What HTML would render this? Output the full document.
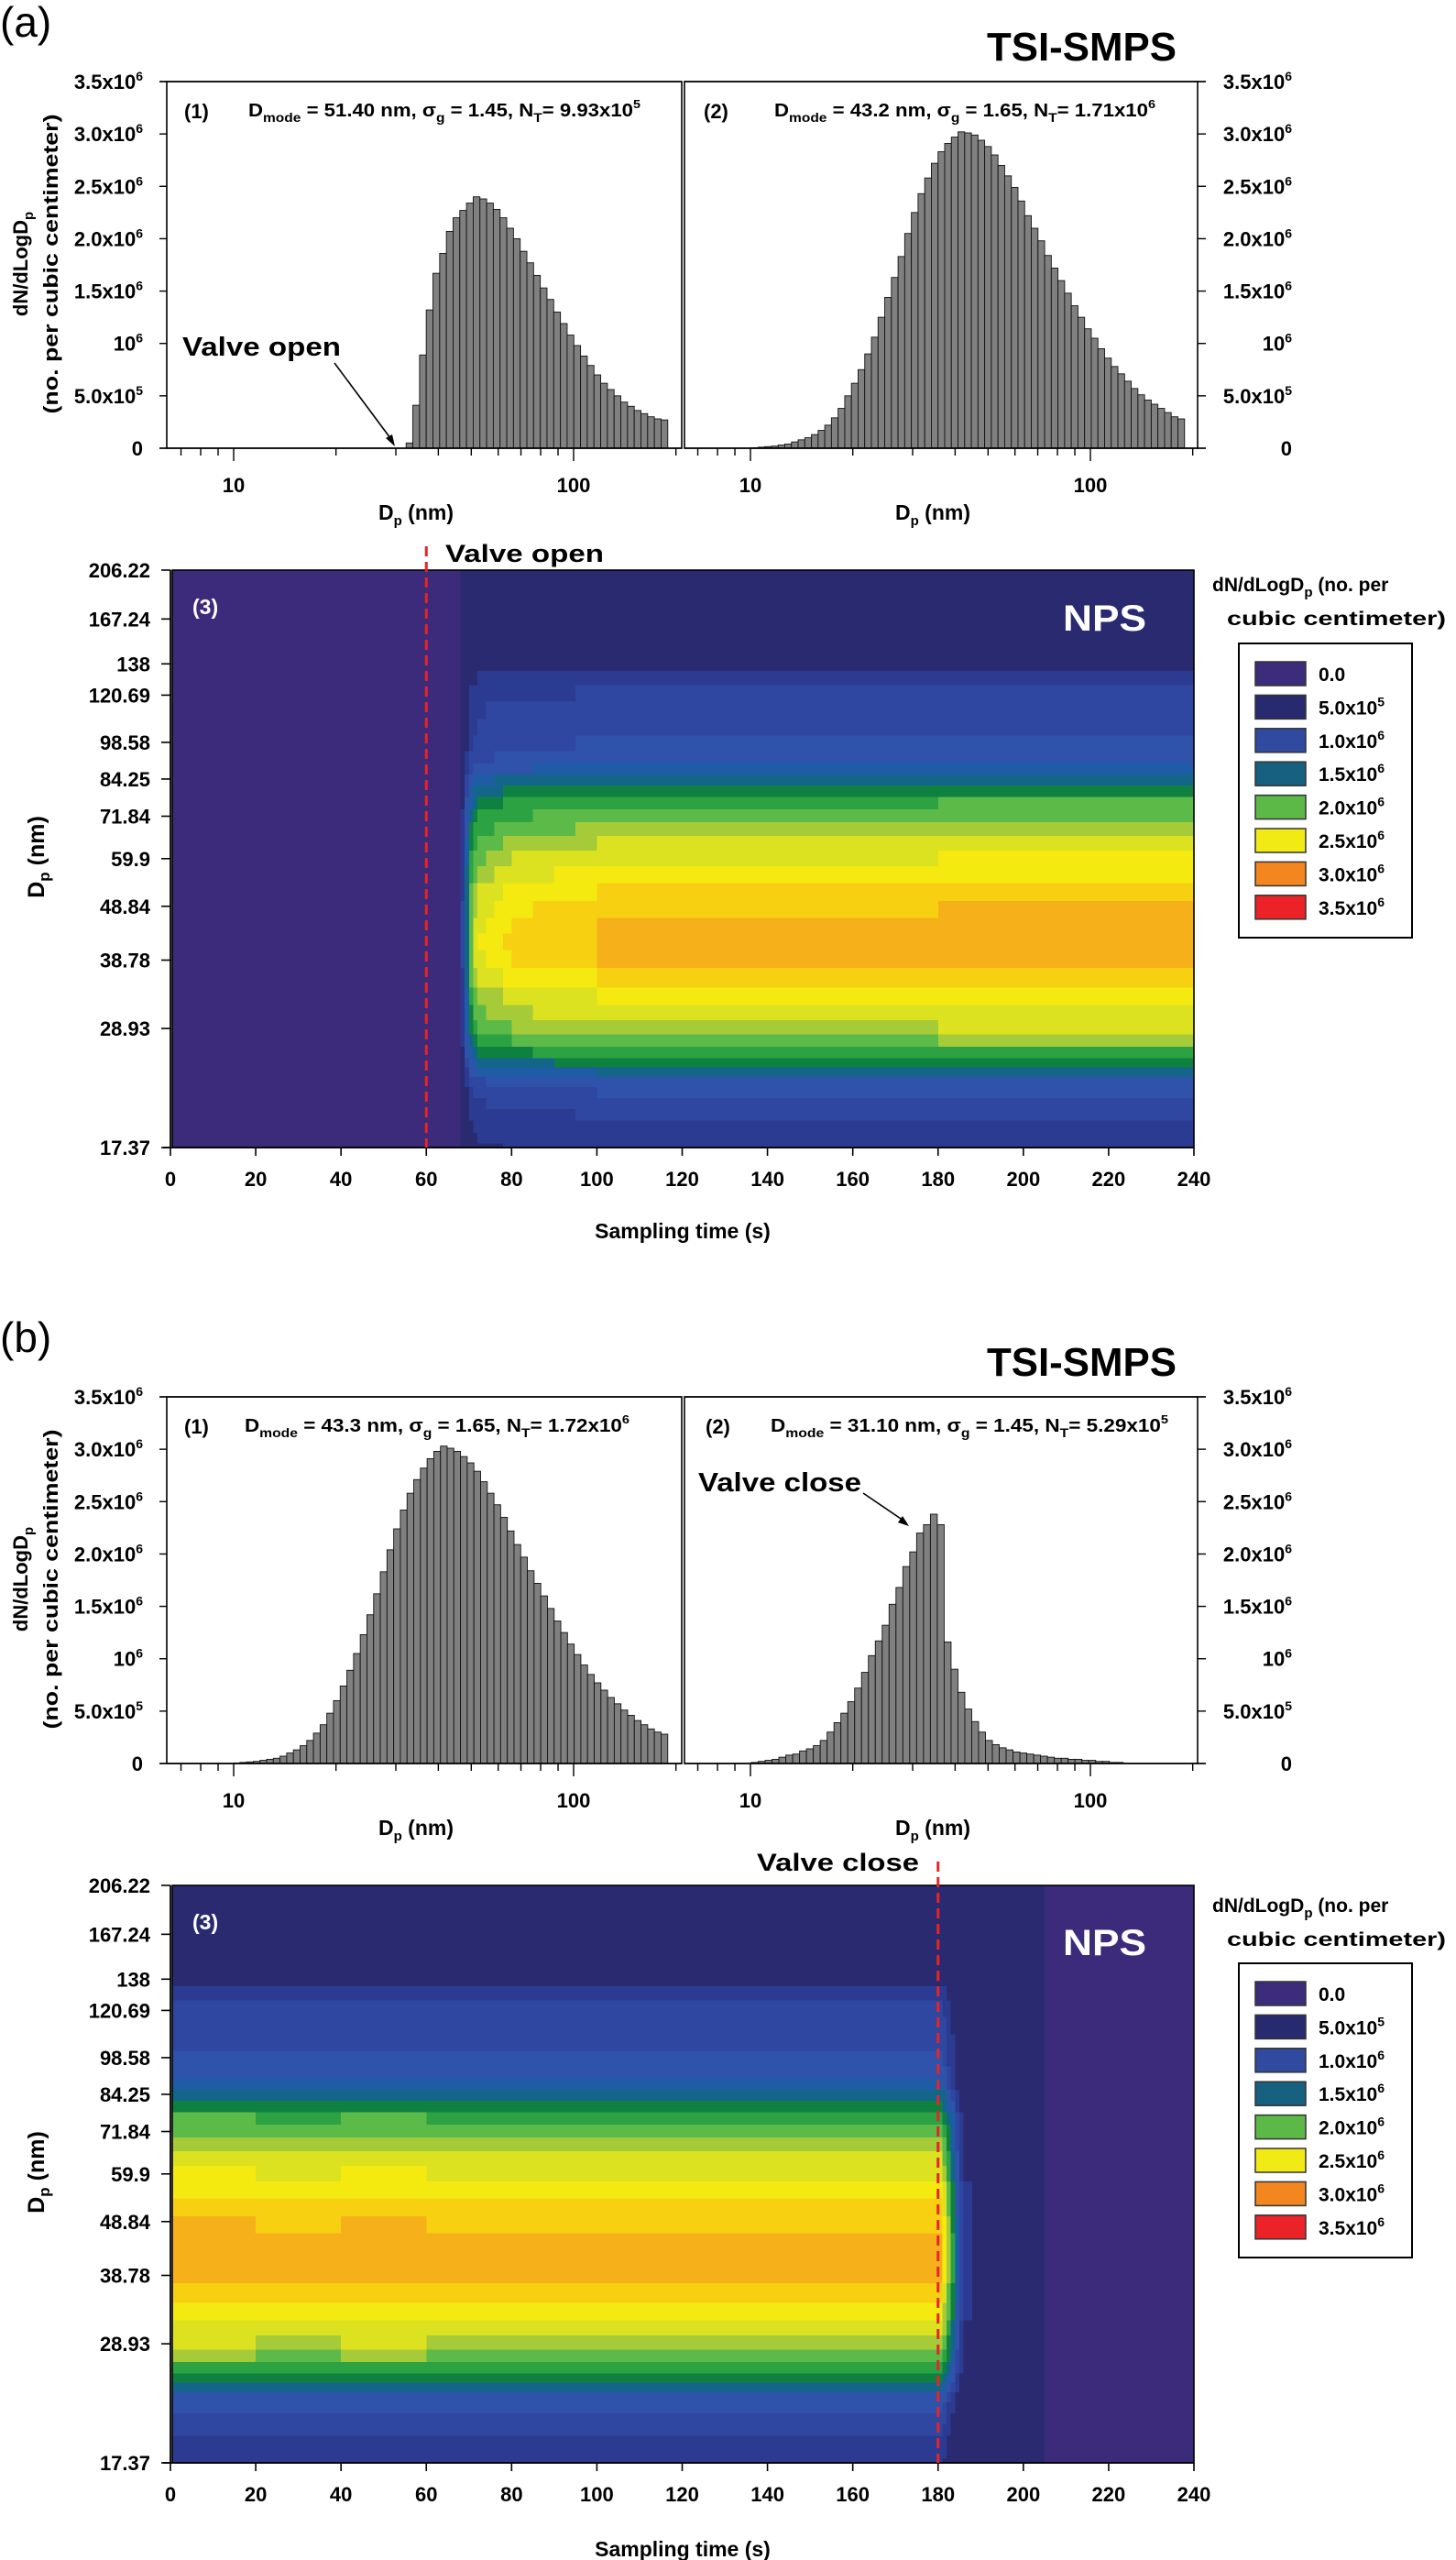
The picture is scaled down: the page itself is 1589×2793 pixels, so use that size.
<!DOCTYPE html>
<html><head><meta charset="utf-8"><title>TSI-SMPS vs NPS size distributions</title>
<style>
html,body{margin:0;padding:0;background:#fff;}
svg{display:block;}
text{font-family:"Liberation Sans",Arial,sans-serif;font-weight:bold;fill:#000;}
.reg{font-weight:normal;}
.w{fill:#fff;}
</style></head>
<body>
<svg id="fig" xmlns="http://www.w3.org/2000/svg" width="1589" height="2793" viewBox="0 0 1589 2793">
<rect x="0" y="0" width="1589" height="2793" fill="#fff"/>

<!-- ================= PANEL A ================= -->
<g id="panelA">
  <text class="reg" x="0" y="40" font-size="46">(a)</text>
  <text x="1077" y="66" font-size="44" textLength="207" lengthAdjust="spacingAndGlyphs">TSI-SMPS</text>
  <text transform="translate(30,288) rotate(-90)" text-anchor="middle" font-size="22">dN/dLogD<tspan font-size="15" dy="6">p</tspan></text>
  <text transform="translate(63,288) rotate(-90)" text-anchor="middle" font-size="22" textLength="327" lengthAdjust="spacingAndGlyphs">(no. per cubic centimeter)</text>
  <g id="histA1"></g>
  <g id="histA2"></g>
  <text x="201" y="129" font-size="22">(1)</text>
  <text x="271" y="127" font-size="20" textLength="428" lengthAdjust="spacingAndGlyphs">D<tspan font-size="14" dy="6">mode</tspan><tspan dy="-6"> = 51.40 nm, σ</tspan><tspan font-size="14" dy="6">g</tspan><tspan dy="-6"> = 1.45, N</tspan><tspan font-size="14" dy="6">T</tspan><tspan dy="-6">= 9.93x10</tspan><tspan font-size="13" dy="-9">5</tspan></text>
  <text x="768" y="129" font-size="22">(2)</text>
  <text x="845" y="127" font-size="20" textLength="416" lengthAdjust="spacingAndGlyphs">D<tspan font-size="14" dy="6">mode</tspan><tspan dy="-6"> = 43.2 nm, σ</tspan><tspan font-size="14" dy="6">g</tspan><tspan dy="-6"> = 1.65, N</tspan><tspan font-size="14" dy="6">T</tspan><tspan dy="-6">= 1.71x10</tspan><tspan font-size="13" dy="-9">6</tspan></text>
  <text x="199" y="388" font-size="29" textLength="173" lengthAdjust="spacingAndGlyphs">Valve open</text>
  <line x1="365" y1="396" x2="429" y2="482" stroke="#000" stroke-width="1.6"/>
  <polygon points="431,487 421,478 428,474" fill="#000"/>
  <text x="413" y="567" font-size="23">D<tspan font-size="15" dy="6">p</tspan><tspan dy="-6"> (nm)</tspan></text>
  <text x="977" y="567" font-size="23">D<tspan font-size="15" dy="6">p</tspan><tspan dy="-6"> (nm)</tspan></text>

  <g id="heatA"></g>
  <text x="486" y="613" font-size="27" textLength="173" lengthAdjust="spacingAndGlyphs">Valve open</text>
  <text class="w" x="210" y="670" font-size="23">(3)</text>
  <text class="w" x="1160" y="688" font-size="40" textLength="91" lengthAdjust="spacingAndGlyphs">NPS</text>
  <text transform="translate(48,935) rotate(-90)" text-anchor="middle" font-size="25">D<tspan font-size="17" dy="6">p</tspan><tspan dy="-6"> (nm)</tspan></text>
  <text x="745" y="1351" text-anchor="middle" font-size="23">Sampling time (s)</text>
  <g>
    <text x="1323" y="645" font-size="21">dN/dLogD<tspan font-size="15" dy="6">p</tspan><tspan dy="-6"> (no. per</tspan></text>
    <text x="1339" y="682" font-size="21" textLength="239" lengthAdjust="spacingAndGlyphs">cubic centimeter)</text>
    <rect x="1352" y="702" width="189" height="321" fill="#fff" stroke="#000" stroke-width="2"/>
    <g class="legItems"></g>
  </g>
</g>

<!-- ================= PANEL B ================= -->
<g id="panelB" transform="translate(0,1435)">
  <text class="reg" x="0" y="40" font-size="46">(b)</text>
  <text x="1077" y="66" font-size="44" textLength="207" lengthAdjust="spacingAndGlyphs">TSI-SMPS</text>
  <text transform="translate(30,288) rotate(-90)" text-anchor="middle" font-size="22">dN/dLogD<tspan font-size="15" dy="6">p</tspan></text>
  <text transform="translate(63,288) rotate(-90)" text-anchor="middle" font-size="22" textLength="327" lengthAdjust="spacingAndGlyphs">(no. per cubic centimeter)</text>
  <g id="histB1"></g>
  <g id="histB2"></g>
  <text x="201" y="129" font-size="22">(1)</text>
  <text x="267" y="127" font-size="20" textLength="420" lengthAdjust="spacingAndGlyphs">D<tspan font-size="14" dy="6">mode</tspan><tspan dy="-6"> = 43.3 nm, σ</tspan><tspan font-size="14" dy="6">g</tspan><tspan dy="-6"> = 1.65, N</tspan><tspan font-size="14" dy="6">T</tspan><tspan dy="-6">= 1.72x10</tspan><tspan font-size="13" dy="-9">6</tspan></text>
  <text x="770" y="129" font-size="22">(2)</text>
  <text x="841" y="127" font-size="20" textLength="434" lengthAdjust="spacingAndGlyphs">D<tspan font-size="14" dy="6">mode</tspan><tspan dy="-6"> = 31.10 nm, σ</tspan><tspan font-size="14" dy="6">g</tspan><tspan dy="-6"> = 1.45, N</tspan><tspan font-size="14" dy="6">T</tspan><tspan dy="-6">= 5.29x10</tspan><tspan font-size="13" dy="-9">5</tspan></text>
  <text x="762" y="192" font-size="29" textLength="178" lengthAdjust="spacingAndGlyphs">Valve close</text>
  <line x1="942" y1="194" x2="989" y2="226" stroke="#000" stroke-width="1.6"/>
  <polygon points="992,230 980,226 985,219" fill="#000"/>
  <text x="413" y="567" font-size="23">D<tspan font-size="15" dy="6">p</tspan><tspan dy="-6"> (nm)</tspan></text>
  <text x="977" y="567" font-size="23">D<tspan font-size="15" dy="6">p</tspan><tspan dy="-6"> (nm)</tspan></text>

  <g id="heatB"></g>
  <text x="826" y="606" font-size="27" textLength="177" lengthAdjust="spacingAndGlyphs">Valve close</text>
  <text class="w" x="210" y="670" font-size="23">(3)</text>
  <text class="w" x="1160" y="698" font-size="40" textLength="91" lengthAdjust="spacingAndGlyphs">NPS</text>
  <text transform="translate(48,935) rotate(-90)" text-anchor="middle" font-size="25">D<tspan font-size="17" dy="6">p</tspan><tspan dy="-6"> (nm)</tspan></text>
  <text x="745" y="1354" text-anchor="middle" font-size="23">Sampling time (s)</text>
  <g>
    <text x="1323" y="651" font-size="21">dN/dLogD<tspan font-size="15" dy="6">p</tspan><tspan dy="-6"> (no. per</tspan></text>
    <text x="1339" y="688" font-size="21" textLength="239" lengthAdjust="spacingAndGlyphs">cubic centimeter)</text>
    <rect x="1352" y="707" width="189" height="321" fill="#fff" stroke="#000" stroke-width="2"/>
    <g class="legItems" data-yshift="5"></g>
  </g>
</g>
</svg>

<script>
// ---------- histogram data (values in 10^6 per cm^3) ----------
const histA1Range = [32.9, 185];
const histA1Values = [0.05,0.41,0.89,1.32,1.67,1.86,2.07,2.20,2.27,2.34,2.40,2.38,2.34,2.28,2.20,2.10,2.00,1.88,1.77,1.65,1.53,1.42,1.30,1.19,1.08,0.98,0.88,0.79,0.70,0.62,0.56,0.50,0.44,0.40,0.36,0.33,0.30,0.28,0.27];
const histA2Range = [10.3, 185];
const histA2Values = [0.005,0.01,0.015,0.02,0.03,0.04,0.06,0.08,0.10,0.13,0.17,0.22,0.29,0.38,0.50,0.62,0.75,0.90,1.06,1.25,1.44,1.63,1.83,2.05,2.25,2.43,2.58,2.72,2.83,2.91,2.97,3.02,3.01,2.99,2.94,2.88,2.80,2.70,2.60,2.49,2.36,2.22,2.10,1.98,1.84,1.72,1.60,1.48,1.36,1.25,1.14,1.05,0.95,0.86,0.78,0.71,0.64,0.57,0.51,0.46,0.42,0.38,0.34,0.30,0.28];
const histB1Range = [10.2, 185];
const histB1Values = [0.005,0.01,0.015,0.02,0.03,0.04,0.05,0.07,0.10,0.13,0.17,0.22,0.29,0.37,0.48,0.60,0.74,0.89,1.05,1.23,1.42,1.62,1.83,2.04,2.24,2.42,2.58,2.71,2.82,2.91,2.98,3.03,3.01,2.98,2.93,2.87,2.79,2.69,2.58,2.47,2.35,2.22,2.09,1.97,1.84,1.72,1.60,1.48,1.36,1.25,1.14,1.04,0.94,0.85,0.77,0.70,0.63,0.57,0.51,0.46,0.41,0.37,0.33,0.30,0.28];
const histB2Range = [10.3, 122];
const histB2Values = [0.01,0.02,0.03,0.04,0.06,0.08,0.09,0.12,0.14,0.17,0.22,0.30,0.39,0.48,0.59,0.72,0.87,1.03,1.17,1.32,1.52,1.68,1.88,2.02,2.20,2.28,2.38,2.28,1.16,0.90,0.68,0.52,0.40,0.30,0.22,0.18,0.15,0.13,0.11,0.10,0.09,0.08,0.07,0.06,0.05,0.05,0.04,0.04,0.03,0.03,0.02,0.02,0.01,0.01];
const histTickValues = [0,0.5,1,1.5,2,2.5,3,3.5];
const histTickBase = ['0','5.0x10','10','1.5x10','2.0x10','2.5x10','3.0x10','3.5x10'];
const histTickExp = ['','5','6','6','6','6','6','6'];
const histXMajor = [10,100];
const histXMinor = [7,8,9,20,30,40,50,60,70,80,90,200];

// ---------- heatmap data ----------
const hmDiam = [206.22,190,175,160,148,138,130,122,113,105,98,92,88,84,80,76,72,68,64,60,56,52,48,45,42,39,36,33,31,29,27.5,26,25,24,23,22,21,20,19,18,17.37];
const hmProfile = [0.30,0.32,0.34,0.36,0.40,0.45,0.62,0.72,0.80,0.86,0.92,1.0,1.15,1.45,1.65,1.85,2.0,2.15,2.3,2.45,2.6,2.72,2.82,2.9,2.95,2.9,2.75,2.55,2.4,2.25,2.05,1.8,1.55,1.3,1.05,0.9,0.8,0.72,0.66,0.6,0.55];
const timesA = [0,68,69,70,71,72,74,76,78,80,85,90,95,100,110,120,140,160,180,200,220];
const ampA = [0,0.25,0.5,0.7,0.8,0.85,0.88,0.9,0.92,0.94,0.96,0.97,0.98,1.0,1.0,1.0,1.02,1.02,1.03,1.03,1.03];
const timesB = [0,20,40,60,80,100,120,140,160,181,182,183,184,185,186,188,196,205];
const ampB = [1.03,1.02,1.03,1.02,1.02,1.02,1.02,1.01,1.0,0.9,0.75,0.6,0.4,0.28,0.2,0.16,0.16,0];
const hmTickValues = [206.22,167.24,138,120.69,98.58,84.25,71.84,59.9,48.84,38.78,28.93,17.37];
const hmTickLabels = ['206.22','167.24','138','120.69','98.58','84.25','71.84','59.9','48.84','38.78','28.93','17.37'];
const timeTicks = [0,20,40,60,80,100,120,140,160,180,200,220,240];
const levelBounds = [0.045,0.5,0.7,0.9,1.1,1.3,1.5,1.7,1.9,2.1,2.3,2.5,2.7,2.9,3.1,3.5];
const levelColors = ['#3c2a7a','#292a70','#2c3b92','#2f47a0','#2f52aa','#1e5ca6','#13668a','#0e8140','#2ca243','#5cba48','#a6cb38','#dce21f','#f4ea10','#f8d012','#f6b11a','#f4861e','#eb2227'];
const legendLabelsBase = ['0.0','5.0x10','1.0x10','1.5x10','2.0x10','2.5x10','3.0x10','3.5x10'];
const legendLabelsExp = ['','5','6','6','6','6','6','6'];
const legendColors = ['#3d2b7b','#282a6f','#2f4a9e','#17607f','#5cb947','#f2ea14','#f3861f','#eb2227'];

const NS = 'http://www.w3.org/2000/svg';
function mk(tag, attrs, parent){
  const e = document.createElementNS(NS, tag);
  for (const k in attrs) e.setAttribute(k, attrs[k]);
  parent.appendChild(e);
  return e;
}

// ---------- histogram axis functions ----------
const H_TOP = 89, H_BOT = 489;
function yHist(v){ return H_BOT - v / 3.5 * (H_BOT - H_TOP); }
function xLogMaker(x10){ return d => x10 + 371 * Math.log10(d / 10); }

function drawHist(g, frameL, frameR, x10, range, values, side, name){
  const xs = xLogMaker(x10);
  const n = values.length;
  const lstep = (Math.log10(range[1]) - Math.log10(range[0])) / (n - 1);
  const bars = mk('g', {}, g);
  
  
  for (let i = 0; i < n; i++){
    const lc = Math.log10(range[0]) + i * lstep;
    const x0 = xs(Math.pow(10, lc - lstep/2)), x1 = xs(Math.pow(10, lc + lstep/2));
    const y = yHist(values[i]);
    const r = mk('rect', {x: x0, y: y, width: Math.max(0.5, x1 - x0), height: H_BOT - y, fill: '#808080', stroke: '#111', 'stroke-width': 0.9}, bars);
    
    
  }
  // frame
  const fr = mk('rect', {x: frameL, y: H_TOP, width: frameR - frameL, height: H_BOT - H_TOP, fill: 'none', stroke: '#000', 'stroke-width': 1.6}, g);
  
  
  // x axis baseline extension and ticks
  const axL = side === 'left' ? 174 : frameL;
  const axR = side === 'right' ? 1316 : frameR;
  const ax = mk('line', {x1: axL, y1: H_BOT, x2: axR, y2: H_BOT, stroke: '#000', 'stroke-width': 1.6}, g);
  
  
  const tp = mk('line', {x1: axL, y1: H_TOP, x2: axR, y2: H_TOP, stroke: '#000', 'stroke-width': 1.6}, g);
  
  
  histXMinor.forEach(d => {
    const x = xs(d);
    if (x < frameL - 2 || x > frameR + 2) return;
    const t = mk('line', {x1: x, y1: H_BOT, x2: x, y2: H_BOT + 8, stroke: '#000', 'stroke-width': 1.4}, g);
    
    
  });
  histXMajor.forEach(d => {
    const x = xs(d);
    const t = mk('line', {x1: x, y1: H_BOT, x2: x, y2: H_BOT + 14, stroke: '#000', 'stroke-width': 1.4}, g);
    
    
    const l = mk('text', {x: x, y: 537, 'text-anchor': 'middle', 'font-size': 22}, g);
    l.textContent = String(d);
    
    
  });
  // y ticks
  histTickValues.forEach((v, i) => {
    const y = yHist(v);
    let tx1, tx2, lx;
    if (side === 'left'){ tx1 = 174; tx2 = frameL; lx = 156; }
    else { tx1 = frameR; tx2 = 1316; lx = 1410; }
    const t = mk('line', {x1: tx1, y1: y, x2: tx2, y2: y, stroke: '#000', 'stroke-width': 1.4}, g);
    
    
    const l = mk('text', {x: lx, y: y + 8, 'text-anchor': 'end', 'font-size': 22}, g);
    
    
    l.appendChild(document.createTextNode(histTickBase[i]));
    if (histTickExp[i]){
      const s = mk('tspan', {'font-size': 14, dy: -9}, l);
      s.textContent = histTickExp[i];
    }
  });
}

drawHist(document.getElementById('histA1'), 182, 744, 255, histA1Range, histA1Values, 'left', 'hist-a1');
drawHist(document.getElementById('histA2'), 747, 1307, 819, histA2Range, histA2Values, 'right', 'hist-a2');
drawHist(document.getElementById('histB1'), 182, 744, 255, histB1Range, histB1Values, 'left', 'hist-b1');
drawHist(document.getElementById('histB2'), 747, 1307, 819, histB2Range, histB2Values, 'right', 'hist-b2');

// ---------- heatmap axis functions ----------
const HM_L = 188, HM_R = 1303, HM_T = 622, HM_B = 1252;
const D_MAX = 206.22, D_MIN = 17.37;
function yDiam(d){ return HM_T + (Math.log(D_MAX) - Math.log(d)) / Math.log(D_MAX / D_MIN) * (HM_B - HM_T); }
function xTime(t){ return 186 + t / 240 * (HM_R - 186); }
function colorFor(v){
  for (let i = 0; i < levelBounds.length; i++) if (v < levelBounds[i]) return levelColors[i];
  return levelColors[levelColors.length - 1];
}

function drawHeat(g, times, amps, valveT, name){
  const cells = mk('g', {'shape-rendering': 'crispEdges'}, g);
  
  
  for (let c = 0; c < times.length; c++){
    const t0 = times[c], t1 = c + 1 < times.length ? times[c + 1] : 240;
    const x0 = Math.max(HM_L, xTime(t0)), x1 = xTime(t1);
    for (let r = 0; r < hmDiam.length; r++){
      const dTop = r === 0 ? D_MAX : Math.sqrt(hmDiam[r - 1] * hmDiam[r]);
      const dBot = r === hmDiam.length - 1 ? D_MIN : Math.sqrt(hmDiam[r] * hmDiam[r + 1]);
      const y0 = yDiam(dTop), y1 = yDiam(dBot);
      const v = hmProfile[r] * amps[c];
      const rc = mk('rect', {x: x0, y: y0, width: x1 - x0 + 0.6, height: y1 - y0 + 0.6, fill: colorFor(v)}, cells);
      
      
    }
  }
  const fr = mk('rect', {x: HM_L, y: HM_T, width: HM_R - HM_L, height: HM_B - HM_T, fill: 'none', stroke: '#000', 'stroke-width': 1.6}, g);
  
  
  const la = mk('line', {x1: 186, y1: HM_T, x2: 186, y2: HM_B, stroke: '#000', 'stroke-width': 1.8}, g);
  
  
  const ba = mk('line', {x1: 178, y1: HM_B, x2: HM_R, y2: HM_B, stroke: '#000', 'stroke-width': 1.8}, g);
  
  
  hmTickValues.forEach((d, i) => {
    const y = yDiam(d);
    const t = mk('line', {x1: 176, y1: y, x2: 186, y2: y, stroke: '#000', 'stroke-width': 1.6}, g);
    
    
    const l = mk('text', {x: 164, y: y + 8, 'text-anchor': 'end', 'font-size': 22}, g);
    l.textContent = hmTickLabels[i];
    
    
  });
  timeTicks.forEach(tt => {
    const x = xTime(tt);
    const t = mk('line', {x1: x, y1: HM_B, x2: x, y2: HM_B + 9, stroke: '#000', 'stroke-width': 1.6}, g);
    
    
    const l = mk('text', {x: x, y: 1294, 'text-anchor': 'middle', 'font-size': 22}, g);
    l.textContent = String(tt);
    
    
  });
  const vx = xTime(valveT);
  const vl = mk('line', {x1: vx, y1: 596, x2: vx, y2: HM_B, stroke: '#e8232a', 'stroke-width': 3, 'stroke-dasharray': '11 6'}, g);
  
  
}

drawHeat(document.getElementById('heatA'), timesA, ampA, 60, 'heatmap-a');
drawHeat(document.getElementById('heatB'), timesB, ampB, 180, 'heatmap-b');

// ---------- legends ----------
document.querySelectorAll('.legItems').forEach(g => {
  const sh = parseFloat(g.getAttribute('data-yshift') || '0');
  legendColors.forEach((c, i) => {
    const y = 722 + sh + i * 36.4;
    const s = mk('rect', {x: 1370, y: y, width: 55, height: 26, fill: c, stroke: '#333', 'stroke-width': 1.5}, g);
    
    
    const l = mk('text', {x: 1439, y: y + 21, 'font-size': 21}, g);
    
    
    l.appendChild(document.createTextNode(legendLabelsBase[i]));
    if (legendLabelsExp[i]){
      const e = mk('tspan', {'font-size': 14, dy: -9}, l);
      e.textContent = legendLabelsExp[i];
    }
  });
});
</script>
</body></html>
